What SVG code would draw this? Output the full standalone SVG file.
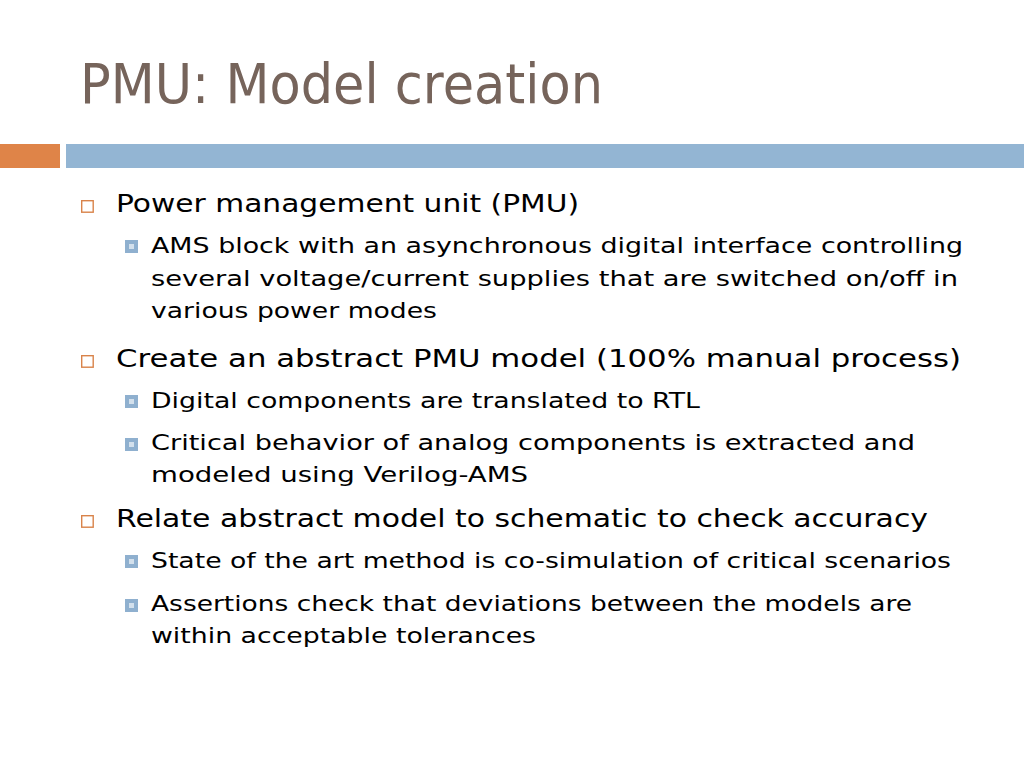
<svg xmlns="http://www.w3.org/2000/svg" width="1024" height="768" viewBox="0 0 1024 768">
<style>
.t{font-family:"DejaVu Sans","Liberation Sans",sans-serif;fill:#000}
.l1{font-size:25px}
.l2{font-size:21.5px}
.title{font-family:"DejaVu Sans","Liberation Sans",sans-serif;font-size:55px;fill:#76645b}
.b1{fill:none;stroke:#d9834a;stroke-width:1.4}
.b2{fill:#8fb0cf}
.b2i{fill:#d3e0ec}
</style>
<defs>
<g id="sq2"><rect class="b2" x="0" y="0" width="13" height="13"/><rect class="b2i" x="4" y="4" width="5" height="5"/></g>
</defs>
<rect x="0" y="0" width="1024" height="768" fill="#fff"/>
<text class="title" x="80" y="103" textLength="523" lengthAdjust="spacingAndGlyphs">PMU: Model creation</text>
<rect x="0" y="144" width="60" height="24" fill="#df8448"/>
<rect x="66" y="144" width="958" height="24" fill="#93b5d3"/>

<g id="bullets1">
<rect class="b1" x="81.7" y="200.7" width="11.5" height="11.5"/>
<rect class="b1" x="81.7" y="355.7" width="11.5" height="11.5"/>
<rect class="b1" x="81.7" y="515.7" width="11.5" height="11.5"/>
</g>
<g id="bullets2">
<use href="#sq2" x="125" y="240"/>
<use href="#sq2" x="125" y="395"/>
<use href="#sq2" x="125" y="438"/>
<use href="#sq2" x="125" y="555"/>
<use href="#sq2" x="125" y="599"/>
</g>

<g id="text">
<text class="t l1" x="116" y="212" textLength="463" lengthAdjust="spacingAndGlyphs">Power management unit (PMU)</text>
<text class="t l2" x="151" y="253" textLength="812" lengthAdjust="spacingAndGlyphs">AMS block with an asynchronous digital interface controlling</text>
<text class="t l2" x="151" y="286" textLength="807" lengthAdjust="spacingAndGlyphs">several voltage/current supplies that are switched on/off in</text>
<text class="t l2" x="151" y="318" textLength="286" lengthAdjust="spacingAndGlyphs">various power modes</text>
<text class="t l1" x="116" y="367" textLength="845" lengthAdjust="spacingAndGlyphs">Create an abstract PMU model (100% manual process)</text>
<text class="t l2" x="151" y="408" textLength="549" lengthAdjust="spacingAndGlyphs">Digital components are translated to RTL</text>
<text class="t l2" x="151" y="450" textLength="764" lengthAdjust="spacingAndGlyphs">Critical behavior of analog components is extracted and</text>
<text class="t l2" x="151" y="482" textLength="377" lengthAdjust="spacingAndGlyphs">modeled using Verilog-AMS</text>
<text class="t l1" x="116" y="527" textLength="812" lengthAdjust="spacingAndGlyphs">Relate abstract model to schematic to check accuracy</text>
<text class="t l2" x="151" y="568" textLength="800" lengthAdjust="spacingAndGlyphs">State of the art method is co-simulation of critical scenarios</text>
<text class="t l2" x="151" y="611" textLength="761" lengthAdjust="spacingAndGlyphs">Assertions check that deviations between the models are</text>
<text class="t l2" x="151" y="643" textLength="385" lengthAdjust="spacingAndGlyphs">within acceptable tolerances</text>
</g>
</svg>
